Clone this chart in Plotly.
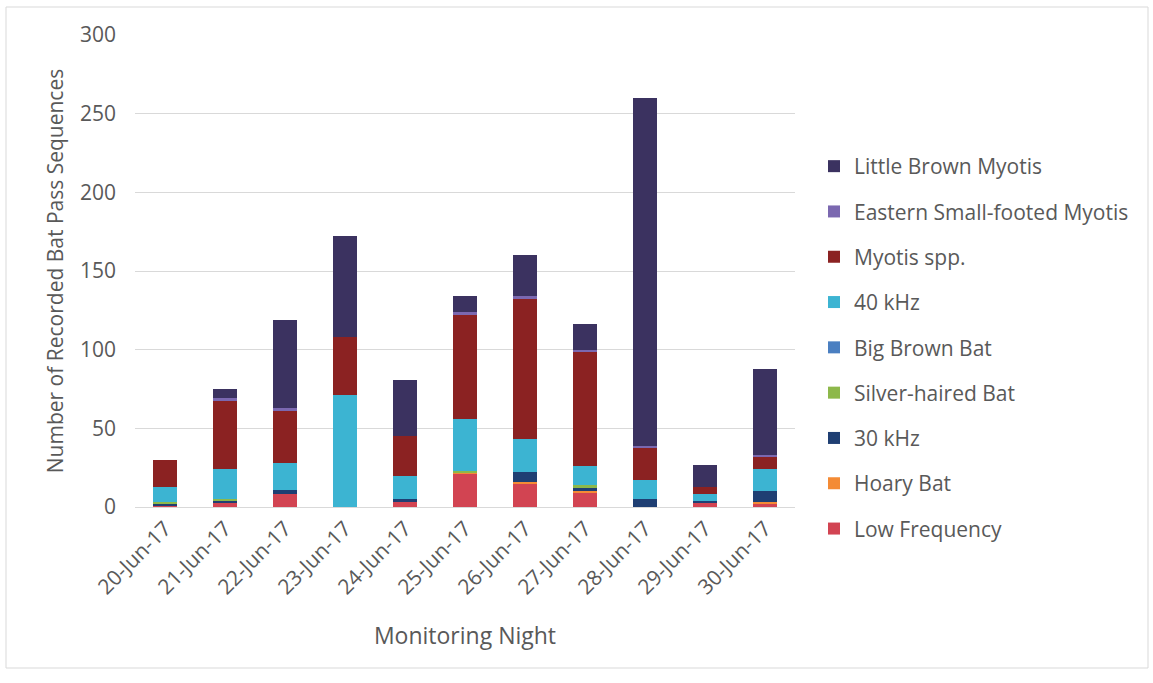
import plotly.graph_objects as go

nights = ["20-Jun-17", "21-Jun-17", "22-Jun-17", "23-Jun-17", "24-Jun-17", "25-Jun-17",
          "26-Jun-17", "27-Jun-17", "28-Jun-17", "29-Jun-17", "30-Jun-17"]

low_frequency = [1, 3, 8, 0, 3, 21, 15, 9, 0, 3, 2]
hoary_bat = [0, 0, 0, 0, 0, 1, 1, 1, 0, 0, 1]
khz30 = [1, 1, 3, 0, 2, 0, 6, 2, 5, 1, 7]
silver_haired = [1, 1, 0, 0, 0, 1, 0, 2, 0, 0, 0]
big_brown = [0, 0, 0, 0, 0, 0, 0, 0, 0, 0, 0]
khz40 = [10, 19, 17, 71, 15, 33, 21, 12, 12, 4, 14]
myotis_spp = [17, 44, 33, 37, 25, 66, 89, 73, 21, 5, 8]
eastern_small_footed = [0, 1, 2, 0, 0, 2, 2, 1, 1, 0, 1]
little_brown = [0, 6, 56, 64, 36, 10, 26, 16, 221, 14, 55]

series = [
    ("Low Frequency", low_frequency, "#d24452"),
    ("Hoary Bat", hoary_bat, "#f48b35"),
    ("30 kHz", khz30, "#1f3f73"),
    ("Silver-haired Bat", silver_haired, "#8db84a"),
    ("Big Brown Bat", big_brown, "#4a7fc1"),
    ("40 kHz", khz40, "#3cb4d2"),
    ("Myotis spp.", myotis_spp, "#8b2222"),
    ("Eastern Small-footed Myotis", eastern_small_footed, "#7b68b0"),
    ("Little Brown Myotis", little_brown, "#3b3260"),
]

fig = go.Figure()
n = len(series)
for i, (name, vals, col) in enumerate(series):
    fig.add_trace(go.Bar(x=nights, y=vals, name=name, marker_color=col,
                         marker_line_width=0, legendgroup=f"g{i}",
                         legendrank=n - i))

L, R, T, B = 135, 358, 35, 176
W, H = 1153, 683
pw, ph = W - L - R, H - T - B

def px_x(x):
    return (x - L) / pw

def px_y(y):
    return (H - B - y) / ph

txt = "#595959"
fnt = "Open Sans"
fig.update_layout(
    width=W, height=H,
    margin=dict(l=L, r=R, t=T, b=B),
    barmode="stack", bargap=0.6,
    plot_bgcolor="white", paper_bgcolor="white",
    font=dict(family=fnt, size=20, color=txt),
    legend=dict(x=px_x(814), y=px_y(146), xanchor="left", yanchor="top",
                traceorder="grouped", tracegroupgap=15,
                font=dict(size=21, color=txt)),
    xaxis=dict(tickangle=-45, showgrid=False, showline=True, linecolor="#d9d9d9",
               ticks="", tickfont=dict(size=21, color=txt),
               title=dict(text="Monitoring Night", font=dict(size=23, color=txt), standoff=28)),
    yaxis=dict(range=[0, 300], dtick=50, showgrid=True, gridcolor="#d9d9d9",
               zeroline=False, showline=False, ticks="", tickfont=dict(size=21, color=txt),
               ticklabelstandoff=18,
               title=dict(text="Number of Recorded Bat Pass Sequences",
                          font=dict(size=21, color=txt), standoff=10)),
    shapes=[dict(type="rect", xref="paper", yref="paper",
                 x0=px_x(6), x1=px_x(1148), y0=px_y(668), y1=px_y(7),
                 line=dict(color="#d9d9d9", width=1), fillcolor="rgba(0,0,0,0)")],
)

fig.write_html("out.html")
